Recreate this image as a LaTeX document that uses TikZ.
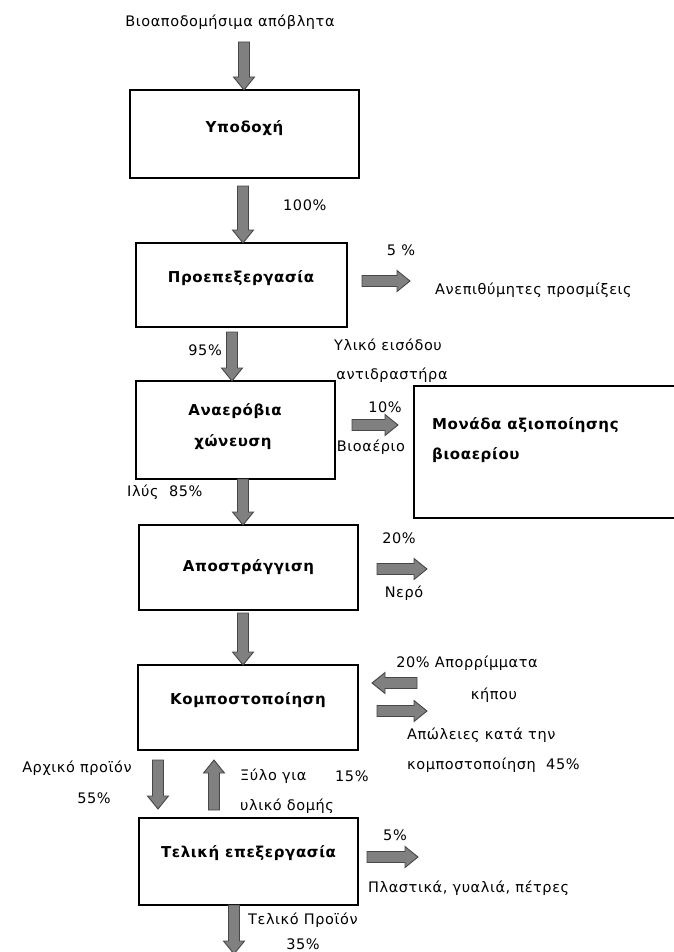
\documentclass[tikz,border=0pt]{standalone}
\usepackage{fontspec}
\setmainfont{DejaVu Sans}
\newfontfamily\notefont[LetterSpace=4]{DejaVu Sans}
\newfontfamily\stagefont[LetterSpace=4]{DejaVu Sans}
\usetikzlibrary{calc}
\definecolor{arrowfill}{HTML}{808080}
\definecolor{arrowline}{HTML}{474747}

\begin{document}
\begin{tikzpicture}[x=1pt,y=-1pt,
  stage/.style={draw=black, line width=1.2pt, inner sep=0pt, outer sep=0pt},
  stagetext/.style={font=\stagefont\bfseries\fontsize{15}{17}\selectfont, inner sep=0pt},
  note/.style={font=\notefont\fontsize{14.5}{16}\selectfont, inner sep=0pt},
  fatarrow/.style={draw=arrowline, fill=arrowfill, line width=0.9pt, line join=miter,
    to path={let \p1=(\tikztostart), \p2=(\tikztotarget),
      \n1={veclen(\x2-\x1,\y2-\y1)}, \n2={(\x2-\x1)/\n1}, \n3={(\y2-\y1)/\n1} in
      ({\x1-\n3*5.5pt},{\y1+\n2*5.5pt})
      -- ({\x2-\n2*13pt-\n3*5.5pt},{\y2-\n3*13pt+\n2*5.5pt})
      -- ({\x2-\n2*13pt-\n3*10.5pt},{\y2-\n3*13pt+\n2*10.5pt})
      -- (\p2)
      -- ({\x2-\n2*13pt+\n3*10.5pt},{\y2-\n3*13pt-\n2*10.5pt})
      -- ({\x2-\n2*13pt+\n3*5.5pt},{\y2-\n3*13pt-\n2*5.5pt})
      -- ({\x1+\n3*5.5pt},{\y1-\n2*5.5pt}) -- cycle}}]

\useasboundingbox[fill=white] (0,0) rectangle (673,952);

% process stages
\node[stage, minimum width=229pt, minimum height=88pt] (b1) at (244.5,134) {};
\node[stage, minimum width=211pt, minimum height=84pt] (b2) at (241.5,285) {};
\node[stage, minimum width=199pt, minimum height=98pt] (b3) at (235.5,430) {};
\node[stage, minimum width=280pt, minimum height=132pt] (b4) at (554,452) {};
\node[stage, minimum width=219pt, minimum height=85pt] (b5) at (248.5,567.5) {};
\node[stage, minimum width=220pt, minimum height=85pt] (b6) at (248,707.5) {};
\node[stage, minimum width=219pt, minimum height=87pt] (b7) at (248.5,861.5) {};

% stage labels
\node[stagetext] (t1) at (244.5,128) {Υποδοχή};
\node[stagetext] (t2) at (241,278) {Προεπεξεργασία};
\node[stagetext] (t3a) at (235,411) {Αναερόβια};
\node[stagetext] (t3b) at (233,442) {χώνευση};
\node[stagetext, anchor=west] (t4a) at (432,425) {Μονάδα αξιοποίησης};
\node[stagetext, anchor=west] (t4b) at (432,455) {βιοαερίου};
\node[stagetext] (t5) at (248.5,567) {Αποστράγγιση};
\node[stagetext] (t6) at (248,700) {Κομποστοποίηση};
\node[stagetext] (t7) at (248.5,853) {Τελική επεξεργασία};

% flow annotations
\node[note] (n0) at (230,22) {Βιοαποδομήσιμα απόβλητα};
\node[note, anchor=west] (n1) at (283,205) {100\%};
\node[note] (n2) at (401,250) {5 \%};
\node[note, anchor=west] (n3) at (435,290) {Ανεπιθύμητες προσμίξεις};
\node[note, anchor=east] (n4) at (222,350) {95\%};
\node[note] (n5) at (388,345) {Υλικό εισόδου};
\node[note] (n6) at (392,375) {αντιδραστήρα};
\node[note] (n7) at (385,407) {10\%};
\node[note] (n8) at (371,447) {Βιοαέριο};
\node[note, anchor=west] (n9) at (127,492) {Ιλύς\ \ 85\%};
\node[note] (n10) at (399,538) {20\%};
\node[note] (n11) at (404,593) {Νερό};
\node[note] (n12) at (467,663) {20\% Απορρίμματα};
\node[note] (n13) at (494,695) {κήπου};
\node[note, anchor=west] (n14) at (407,735) {Απώλειες κατά την};
\node[note, anchor=west] (n15) at (407,765) {κομποστοποίηση\ \ 45\%};
\node[note] (n16) at (77,768) {Αρχικό προϊόν};
\node[note] (n17) at (94,798) {55\%};
\node[note, anchor=west] (n18) at (240,776) {Ξύλο για};
\node[note, anchor=west] (n19) at (335,776) {15\%};
\node[note, anchor=west] (n20) at (240,806) {υλικό δομής};
\node[note] (n21) at (395,835) {5\%};
\node[note, anchor=west] (n22) at (368,888) {Πλαστικά, γυαλιά, πέτρες};
\node[note, anchor=west] (n23) at (248,920) {Τελικό Προϊόν};
\node[note] (n24) at (303,944) {35\%};

% free ends of the flow arrows
\coordinate (a0s) at (244,42);
\coordinate (a1s) at (243,186);
\coordinate (a2s) at (232,332);
\coordinate (a3x) at (243,0);
\coordinate (a4s) at (243,613);
\coordinate (a5s) at (158,760);
\coordinate (a5e) at (158,809);
\coordinate (a6s) at (214,810);
\coordinate (a6e) at (214,760);
\coordinate (a7e) at (234,954);
\coordinate (h1e) at (410,281);
\coordinate (h2e) at (398,425);
\coordinate (h3e) at (427,569);
\coordinate (h4s) at (417,683);
\coordinate (h4e) at (372,683);
\coordinate (h5e) at (427,711);
\coordinate (h6e) at (418,857);

% main flow
\draw[fatarrow] (a0s) to (a0s |- b1.north);
\draw[fatarrow] (a1s) to (a1s |- b2.north);
\draw[fatarrow] (a2s) to (a2s |- b3.north);
\draw[fatarrow] (a3x |- b3.south) to (a3x |- b5.north);
\draw[fatarrow] (a4s) to (a4s |- b6.north);
\draw[fatarrow] (a5s) to (a5e);
\draw[fatarrow] (a6s) to (a6e);
\draw[fatarrow] (a7e |- b7.south) to (a7e);

% side streams
\draw[fatarrow] (h1e -| b2.east) ++(15,0) to (h1e);
\draw[fatarrow] (h2e -| b3.east) ++(17,0) to (h2e);
\draw[fatarrow] (h3e -| b5.east) ++(19,0) to (h3e);
\draw[fatarrow] (h4s) to (h4e);
\draw[fatarrow] (h5e -| b6.east) ++(19,0) to (h5e);
\draw[fatarrow] (h6e -| b7.east) ++(9,0) to (h6e);
\end{tikzpicture}
\end{document}
